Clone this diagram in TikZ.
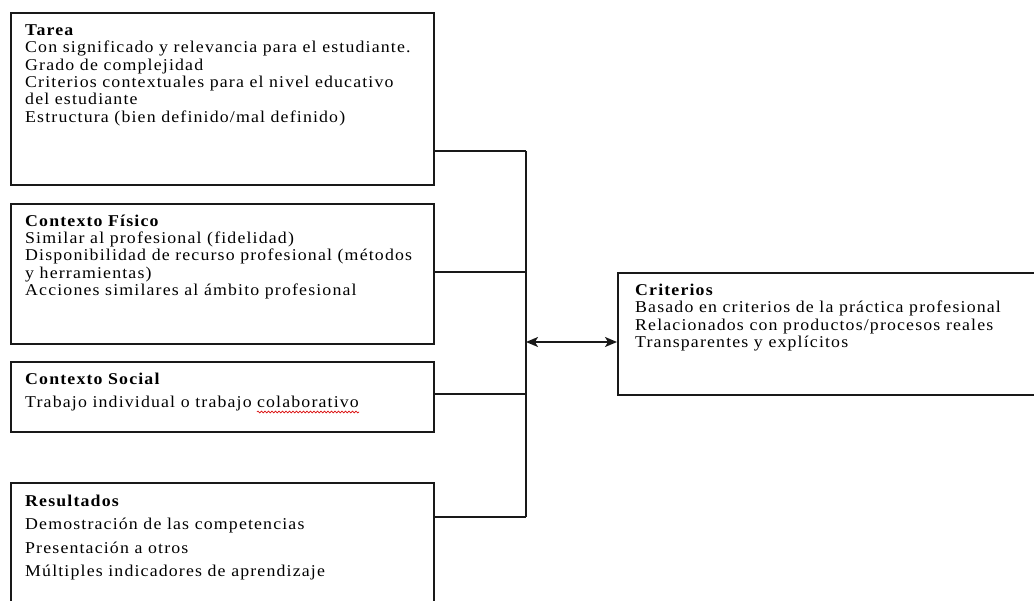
\documentclass[tikz,border=0pt]{standalone}
\usepackage{fontspec}
\setmainfont{Liberation Serif}[LetterSpace=7,FakeStretch=1.08]
\usetikzlibrary{arrows.meta,decorations.pathmorphing}
\begin{document}
\begin{tikzpicture}[x=1pt,y=-1pt,
  box/.style n args={2}{draw=black!90,line width=1.6pt,anchor=north west,inner sep=0pt,minimum width=#1,minimum height=#2},
  txt/.style={anchor=north west,inner sep=0pt,align=left,font=\fontsize{16.5}{17.3}\selectfont},
  txtwide/.style={anchor=north west,inner sep=0pt,align=left,font=\fontsize{16.5}{23.4}\selectfont},
  line/.style={anchor=base west,inner sep=0pt,font=\fontsize{16.5}{17.3}\selectfont},
  conn/.style={draw=black!90,line width=1.6pt},
  tip/.tip={Stealth[length=12pt,width=10pt,inset=3pt]}
]
\useasboundingbox (0,0) rectangle (1034,601);
\clip (0,0) rectangle (1034,601);
\fill[white] (0,0) rectangle (1034,601);

% boxes
\node[box={423pt}{172pt}] (tarea) at (10,12) {};
\node[box={423pt}{140pt}] (fisico) at (10,203) {};
\node[box={423pt}{70pt}] (social) at (10,361) {};
\node[box={423pt}{140pt}] (result) at (10,482) {};
\node[box={428pt}{122pt}] (crit) at (617,272) {};

% texts
\node[txt] (tareaT) at (25,22.5) {\rule{0pt}{13pt}\textbf{Tarea}\\Con significado y relevancia para el estudiante.\\Grado de complejidad\\Criterios contextuales para el nivel educativo\\del estudiante\\Estructura (bien definido/mal definido)};
\node[txt] (fisicoT) at (25,213) {\rule{0pt}{13pt}\textbf{Contexto Físico}\\Similar al profesional (fidelidad)\\Disponibilidad de recurso profesional (métodos\\y herramientas)\\Acciones similares al ámbito profesional};
\node[txt] (socialH) at (25,371) {\rule{0pt}{13pt}\textbf{Contexto Social}};
\node[line] (socialA) at (25,407.5) {Trabajo individual o trabajo};
\node[line,xshift=5pt] (socialB) at (socialA.base east) {colaborativo};
\draw[red!85!black,line width=0.6pt,decorate,decoration={snake,amplitude=1pt,segment length=3.5pt}]
  ([yshift=-4.5pt]socialB.base west) -- ([yshift=-4.5pt]socialB.base east);
\node[txtwide] (resultT) at (25,493) {\rule{0pt}{13pt}\textbf{Resultados}\\Demostración de las competencias\\Presentación a otros\\Múltiples indicadores de aprendizaje};
\node[txt] (critT) at (635,282.5) {\rule{0pt}{13pt}\textbf{Criterios}\\Basado en criterios de la práctica profesional\\Relacionados con productos/procesos reales\\Transparentes y explícitos};

% connectors
\coordinate (jT) at (526,151);
\coordinate (jF) at (526,272);
\coordinate (jS) at (526,394);
\coordinate (jR) at (526,517);
\coordinate (jA) at (526,342);
\draw[conn] (tarea.east |- jT) -- (jT);
\draw[conn] (fisico.east |- jF) -- (jF);
\draw[conn] (social.east |- jS) -- (jS);
\draw[conn] (result.east |- jR) -- (jR);
\draw[conn] (jT) -- (jR);
\draw[conn,{tip}-{tip}] (jA) -- (crit.west |- jA);
\end{tikzpicture}
\end{document}
